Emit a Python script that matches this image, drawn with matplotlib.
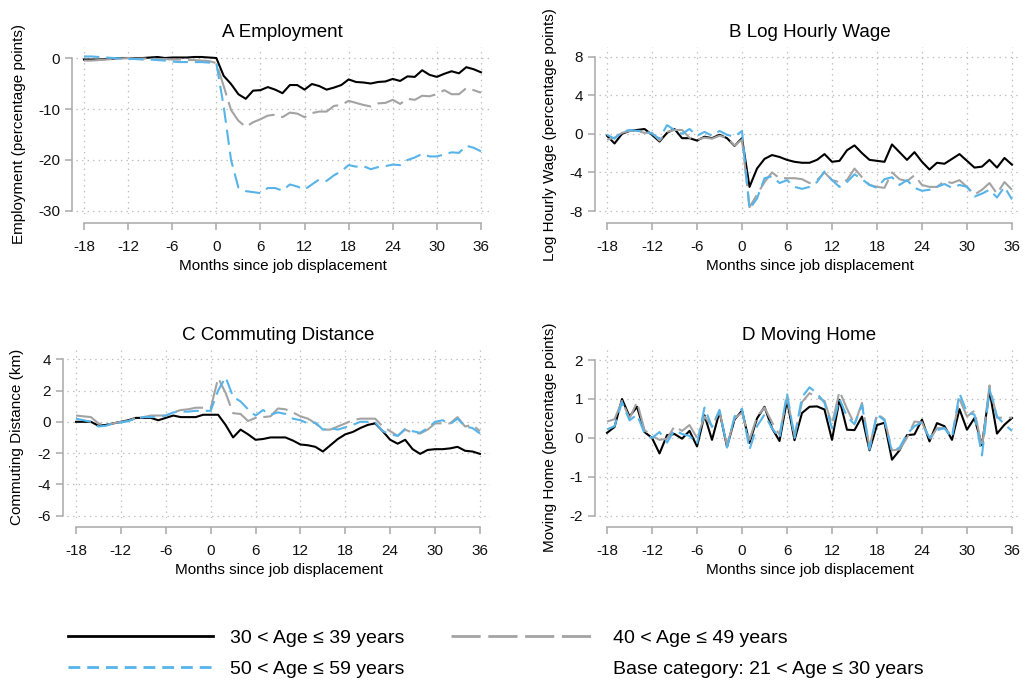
import numpy as np
import matplotlib
matplotlib.use('Agg')
import matplotlib.pyplot as plt
from matplotlib.lines import Line2D

plt.rcParams['font.family'] = ['Liberation Sans', 'DejaVu Sans']
plt.rcParams['axes.unicode_minus'] = False
plt.rcParams['lines.scale_dashes'] = False

# months relative to displacement
months = np.arange(-18, 37)
xticks = [-18, -12, -6, 0, 6, 12, 18, 24, 30, 36]

# A Employment
emp_30 = [-0.3, -0.3, -0.3, -0.2, -0.1, 0.0, 0.0, 0.0, 0.0, 0.1, 0.2, 0.0, 0.1, 0.1, 0.1, 0.2, 0.2, 0.1,
          0.0,
          -3.5, -5.1, -7.1, -8.0, -6.4, -6.3, -5.7, -6.2, -6.9, -5.3, -5.3, -6.2, -5.1, -5.5, -6.2, -5.8,
          -5.3, -4.2, -4.7, -4.8, -5.0, -4.7, -4.6, -4.1, -4.5, -3.6, -3.7, -2.4, -3.3, -3.7, -3.1, -2.6,
          -3.0, -1.8, -2.2, -2.8]
emp_40 = [-0.5, -0.5, -0.4, -0.3, -0.2, -0.1, 0.0, -0.1, -0.1, -0.1, -0.2, -0.2, -0.3, -0.3, -0.4, -0.4, -0.5, -0.6,
          -1.0,
          -5.5, -10.2, -12.3, -13.5, -12.6, -12.0, -11.3, -11.1, -11.6, -10.7, -10.9, -11.6, -10.8, -10.5,
          -10.5, -9.4, -9.2, -8.4, -8.8, -9.2, -9.5, -8.9, -8.8, -8.2, -9.0, -8.0, -8.2, -7.4, -7.5, -7.1,
          -6.3, -7.1, -7.1, -5.9, -6.3, -6.8]
emp_50 = [0.3, 0.3, 0.2, 0.1, 0.0, -0.1, -0.2, -0.2, -0.3, -0.3, -0.4, -0.5, -0.7, -0.8, -0.8, -0.8, -0.8, -0.9,
          -1.0,
          -9.5, -20.0, -25.4, -26.1, -26.3, -26.5, -25.5, -25.5, -26.0, -24.8, -25.2, -25.8, -24.8, -23.8,
          -24.1, -23.0, -22.2, -21.0, -21.3, -21.2, -21.8, -21.4, -21.2, -20.9, -21.0, -20.0, -19.5, -18.8,
          -19.3, -19.3, -18.9, -18.5, -18.6, -17.2, -17.6, -18.3]

# B Log hourly wage
wage_30 = [-0.2, -1.0, 0.0, 0.3, 0.4, 0.5, -0.1, -0.8, 0.1, 0.5, -0.45, -0.45, -0.7, -0.3, -0.45, -0.1, -0.45, -1.25,
           -0.45,
           -5.5, -3.6, -2.6, -2.2, -2.4, -2.7, -2.9, -3.0, -3.0, -2.7, -2.1, -2.9, -2.8, -1.7, -1.2, -2.0,
           -2.7, -2.8, -2.9, -1.1, -1.9, -2.7, -1.9, -2.9, -3.7, -3.0, -3.1, -2.6, -2.1, -2.8, -3.5, -3.4,
           -2.7, -3.5, -2.5, -3.2]
wage_40 = [-0.6, -0.4, 0.1, 0.3, 0.3, 0.1, 0.1, -0.7, 0.2, 0.4, 0.4, -0.4, -0.6, -0.4, -0.5, -0.2, -0.4, -1.2,
           -0.6,
           -7.6, -6.3, -5.0, -4.0, -4.6, -4.6, -4.6, -4.7, -5.1, -4.8, -4.0, -4.8, -5.0, -4.8, -3.6, -4.5,
           -5.3, -5.5, -5.6, -4.0, -4.7, -4.9, -4.3, -5.3, -5.5, -5.5, -4.9, -5.1, -4.8, -5.5, -6.3, -5.8,
           -5.1, -6.2, -5.0, -5.8]
wage_50 = [-0.1, -0.5, 0.2, 0.4, 0.3, 0.3, 0.0, -0.5, 0.9, 0.4, 0.0, 0.5, -0.2, 0.2, -0.2, 0.3, -0.1, -0.3,
           0.3,
           -7.8, -6.7, -4.6, -4.4, -5.1, -4.8, -5.5, -5.7, -5.5, -5.0, -3.9, -4.8, -5.5, -5.0, -4.2, -4.7,
           -5.3, -5.6, -4.7, -4.5, -5.3, -4.8, -5.6, -5.9, -5.8, -5.5, -5.2, -5.6, -5.3, -5.5, -6.5, -6.2,
           -5.8, -6.6, -5.5, -6.8]

# C Commuting distance
comm_30 = [0.0, 0.0, 0.0, -0.25, -0.2, -0.1, 0.0, 0.1, 0.25, 0.25, 0.25, 0.1, 0.25, 0.4, 0.3, 0.3, 0.3, 0.45,
           0.45,
           0.45, -0.2, -1.0, -0.5, -0.8, -1.15, -1.1, -1.0, -1.0, -1.0, -1.2, -1.45, -1.5, -1.6, -1.9, -1.5,
           -1.1, -0.8, -0.65, -0.4, -0.2, -0.1, -0.6, -1.15, -1.4, -1.15, -1.75, -2.05, -1.8, -1.75, -1.75,
           -1.7, -1.6, -1.85, -1.9, -2.05]
comm_40 = [0.4, 0.35, 0.3, -0.1, -0.2, -0.1, 0.0, 0.05, 0.25, 0.3, 0.4, 0.4, 0.4, 0.6, 0.75, 0.8, 0.9, 0.9,
           0.85,
           2.8, 1.85, 0.55, 0.5, 0.05, 0.25, 0.3, 0.35, 0.85, 0.8, 0.6, 0.35, 0.2, -0.1, -0.5, -0.5, -0.3,
           -0.1, 0.1, 0.2, 0.2, 0.2, -0.3, -0.6, -0.9, -0.5, -0.7, -0.75, -0.5, -0.1, -0.1, -0.1, 0.3, -0.3,
           -0.2, -0.6]
comm_50 = [0.2, 0.1, 0.0, -0.3, -0.25, -0.1, -0.05, 0.05, 0.2, 0.3, 0.3, 0.35, 0.4, 0.6, 0.65, 0.65, 0.7, 0.7,
           0.7,
           2.0, 2.85, 1.6, 1.3, 0.8, 0.4, 0.75, 0.45, 0.6, 0.5, 0.2, 0.1, -0.1, -0.05, -0.5, -0.4, -0.5,
           -0.35, -0.2, 0.0, 0.0, -0.05, -0.6, -0.8, -0.9, -0.45, -0.6, -0.7, -0.4, 0.0, 0.1, -0.15, 0.2,
           -0.3, -0.4, -0.75]

# D Moving home
move_30 = [0.13, 0.28, 1.0, 0.55, 0.8, 0.15, 0.0, -0.4, 0.07, 0.1, -0.02, 0.18, -0.22, 0.58, -0.05, 0.67, -0.23, 0.47,
           0.7,
           -0.13, 0.5, 0.8, 0.25, -0.08, 0.97, -0.06, 0.64, 0.8, 0.81, 0.73, -0.05, 0.98, 0.21, 0.2, 0.55,
           -0.32, 0.33, 0.39, -0.56, -0.32, 0.07, 0.09, 0.47, -0.09, 0.38, 0.3, -0.05, 0.74, 0.21, 0.51,
           -0.19, 1.22, 0.11, 0.34, 0.51]
move_40 = [0.42, 0.48, 0.95, 0.5, 0.92, 0.2, 0.05, -0.05, -0.02, 0.3, 0.18, 0.33, 0.0, 0.55, 0.3, 0.68, -0.2, 0.5,
           0.65,
           -0.05, 0.55, 0.78, 0.4, 0.08, 1.05, 0.05, 0.92, 1.15, 1.05, 0.95, 0.35, 1.2, 0.75, 0.35, 0.9,
           -0.25, 0.62, 0.48, -0.32, -0.3, 0.0, 0.42, 0.4, -0.05, 0.25, 0.25, 0.05, 1.0, 0.55, 0.7, -0.25,
           1.35, 0.52, 0.52, 0.52]
move_50 = [0.22, 0.3, 0.92, 0.45, 0.6, 0.12, 0.0, 0.15, -0.12, 0.2, 0.1, 0.05, -0.15, 0.78, 0.28, 0.72, -0.25, 0.55,
           0.75,
           -0.3, 0.3, 0.6, 0.25, 0.0, 1.15, 0.0, 1.05, 1.3, 1.15, 0.9, 0.25, 1.0, 0.55, 0.35, 0.85, -0.3,
           0.6, 0.45, -0.35, -0.25, 0.1, 0.3, 0.4, 0.0, 0.2, 0.25, 0.0, 1.15, 0.65, 0.6, -0.45, 1.25, 0.55,
           0.35, 0.18]

labels = ['30 < Age \u2264 39 years', '40 < Age \u2264 49 years', '50 < Age \u2264 59 years']
base_label = 'Base category: 21 < Age \u2264 30 years'

BLACK = 'black'
GRAY = '#A3A3A3'
BLUE = '#56B4E9'
AXCOL = '#A8A8A8'
styles = [
    dict(color=BLACK, lw=1.5, linestyle='-'),
    dict(color=GRAY, lw=1.5, linestyle=(0, (20, 5))),
    dict(color=BLUE, lw=1.5, linestyle=(0, (11, 5))),
]

W, H = 1025, 684
fig = plt.figure(figsize=(W / 100, H / 100), dpi=100)


def box(l, t, r, b):
    return [l / W, 1 - b / H, (r - l) / W, (b - t) / H]


panels = [
    ("A Employment", "Employment (percentage points)", [emp_30, emp_40, emp_50],
     [0, -10, -20, -30], (-30.59, 2.16), (76, 47, 489, 214), (-19.09, 37.09), (26, 134)),
    ("B Log Hourly Wage", "Log Hourly Wage (percentage points)", [wage_30, wage_40, wage_50],
     [8, 4, 0, -4, -8], (-8.31, 9.0), (599, 47, 1020, 214), (-19.07, 37.07), (557, 135)),
    ("C Commuting Distance", "Commuting Distance (km)", [comm_30, comm_40, comm_50],
     [4, 2, 0, -2, -4, -6], (-6.15, 4.59), (67, 350, 490, 518), (-19.2, 37.34), (24, 437)),
    ("D Moving Home", "Moving Home (percentage points)", [move_30, move_40, move_50],
     [2, 1, 0, -1, -2], (-2.06, 2.26), (599, 350, 1020, 518), (-19.07, 37.07), (557, 437)),
]

for title, ylabel, series, yticks, ylim, rect, xlim, ylab_pos in panels:
    ax = fig.add_axes(box(*rect))
    for vals, st in zip(series, styles):
        ax.plot(months, vals, **st)

    ax.set_xlim(*xlim)
    ax.set_ylim(*ylim)
    ax.set_xticks(xticks)
    ax.set_yticks(yticks)
    ax.grid(True, linestyle=(0, (1, 3)), color='#BDBDBD', linewidth=0.9)
    ax.set_axisbelow(True)

    for side in ['top', 'right']:
        ax.spines[side].set_visible(False)
    ax.spines['left'].set_bounds(min(yticks), max(yticks))
    ax.spines['bottom'].set_bounds(-18, 36)
    ax.spines['left'].set_position(('outward', 3))
    ax.spines['bottom'].set_position(('outward', 6.5))
    for side in ['left', 'bottom']:
        ax.spines[side].set_color(AXCOL)
        ax.spines[side].set_linewidth(1.1)

    ax.tick_params(direction='out', length=5, width=1.1, color=AXCOL,
                   labelsize=11, labelcolor='#111111')
    ax.tick_params(axis='x', pad=7)
    ax.tick_params(axis='y', pad=3.5)

    ax.set_title(title, fontsize=13.5, pad=7)
    ax.set_xlabel("Months since job displacement", fontsize=11, labelpad=4)
    ax.set_ylabel(ylabel, fontsize=11)
    ax.yaxis.set_label_coords(ylab_pos[0] / W, 1 - ylab_pos[1] / H, transform=fig.transFigure)

handles = [Line2D([], [], color=BLACK, lw=2.0),
           Line2D([], [], color=BLUE, lw=2.0, linestyle=(0, (8.5, 5))),
           Line2D([], [], color=GRAY, lw=2.0, linestyle=(0, (21, 5.5))),
           Line2D([], [], linestyle='none')]
fig.legend(handles, [labels[0], labels[2], labels[1], base_label],
           ncol=2, loc='upper left', bbox_to_anchor=(68 / W, 1 - 629 / H),
           frameon=False, fontsize=14, handlelength=7.45, handletextpad=0.87,
           columnspacing=2.4, labelspacing=0.72, borderpad=0, borderaxespad=0)

fig.savefig("out.png", dpi=100)
